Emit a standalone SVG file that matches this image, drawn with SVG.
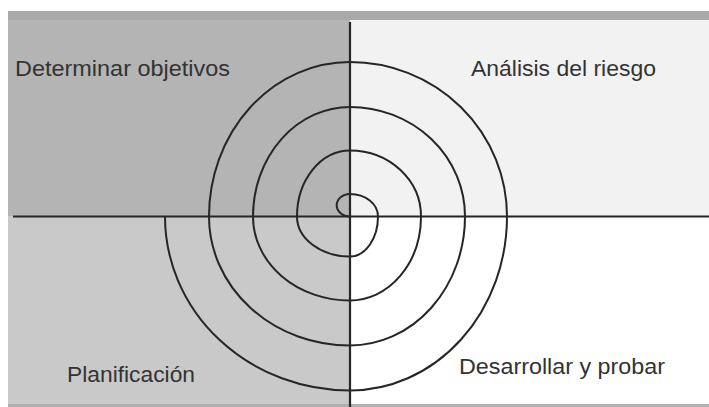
<svg xmlns="http://www.w3.org/2000/svg" width="709" height="407" viewBox="0 0 709 407">
<style>
.lbl{font-family:"Liberation Sans",Arial,sans-serif;font-size:22px;fill:#333333}
.ax{stroke:#262626;stroke-width:2.2;fill:none}
.sp{stroke:#262626;stroke-width:2;fill:none}
</style>
<rect x="0" y="0" width="709" height="407" fill="#ffffff"/>
<g id="quadrants">
<rect id="q-tl" x="8" y="11" width="342" height="205" fill="#b4b4b4"/>
<rect id="q-tr" x="350" y="11" width="359" height="205" fill="#f2f2f2"/>
<rect id="q-bl" x="8" y="216" width="342" height="189" fill="#c9c9c9"/>
<rect id="q-br" x="350" y="216" width="359" height="189" fill="#ffffff"/>
<rect id="top-band" x="8" y="11" width="701" height="9" fill="#a9a9a9"/>
<rect id="bottom-band" x="8" y="404" width="701" height="3" fill="#b0b0b0"/>
</g>
<g id="connectors">
<line class="ax" x1="13" y1="216.5" x2="709" y2="216.5"/>
<line class="ax" x1="350" y1="22" x2="350" y2="407"/>
<path class="sp" d="M350 216.5 A13 11 0 0 1 350 194 A28 22.5 0 0 1 378 216.5 A28 40 0 0 1 350 256.5 A53 40 0 0 1 297 216.5 A53 66 0 0 1 350 150.5 A71 66 0 0 1 421 216.5 A71 84 0 0 1 350 300.5 A97 84 0 0 1 253 216.5 A97 109.5 0 0 1 350 107 A115 109.5 0 0 1 465 216.5 A115 129 0 0 1 350 345.5 A141 129 0 0 1 209 216.5 A141 154.5 0 0 1 350 62 A157 154.5 0 0 1 507 216.5 A157 174 0 0 1 350 390.5 A185 174 0 0 1 165 216.5"/>
</g>
<g id="node-determinar"><text class="lbl" x="15" y="76" textLength="215" lengthAdjust="spacingAndGlyphs">Determinar objetivos</text></g>
<g id="node-analisis"><text class="lbl" x="471" y="76" textLength="185" lengthAdjust="spacingAndGlyphs">Análisis del riesgo</text></g>
<g id="node-planificacion"><text class="lbl" x="67" y="382" textLength="128" lengthAdjust="spacingAndGlyphs">Planificación</text></g>
<g id="node-desarrollar"><text class="lbl" x="459" y="374" textLength="206" lengthAdjust="spacingAndGlyphs">Desarrollar y probar</text></g>
</svg>
